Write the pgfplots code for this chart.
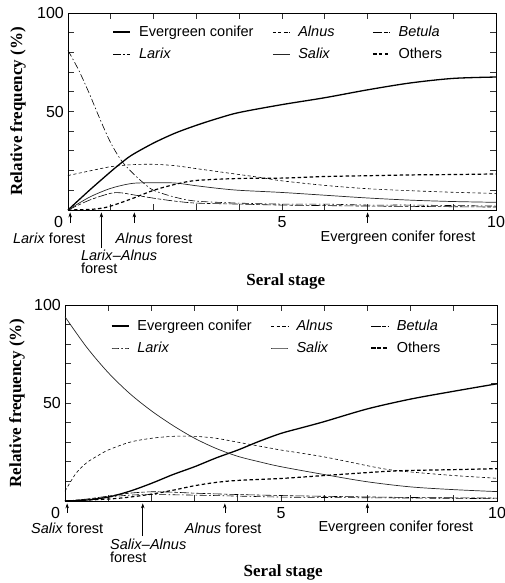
\documentclass[border=0pt]{standalone}
\usepackage{pgfplots}
\pgfplotsset{compat=1.18}
\usepackage{fontspec}
\setmainfont{Liberation Sans}
\newfontfamily\lserif{Liberation Serif}
\usetikzlibrary{arrows.meta}
\newcommand\annfont{\fontsize{14.5}{13}\selectfont}
\tikzset{arr/.style={-{Stealth[length=5pt,width=3.5pt]}, line width=0.6pt}}
\pgfplotsset{
  myaxis/.style={
    scale only axis, clip=false,
    xmin=0, xmax=10, ymin=0, ymax=100,
    xtick={0,1,2,3,4,5,6,7,8,9,10}, ytick={0,10,20,30,40,50,60,70,80,90,100},
    xticklabels={{\makebox[0pt][r]{0\hspace{5pt}}},,,,,5,,,,,10},
    yticklabels={,,,,,50,,,,,100},
    xtick pos=both, ytick pos=both,
    xtick align=inside, ytick align=inside,
    major tick length=6pt,
    xtick style={draw=black!80, line width=1pt},
    ytick style={draw=black!80, line width=1pt},
    axis line style={line width=0.7pt},
    ticklabel style={font=\fontsize{16}{18}\selectfont},
    xticklabel style={inner sep=1pt, yshift=-5pt},
    yticklabel style={inner sep=2pt, xshift=-2pt},
    /pgf/number format/assume math mode=true,
    label style={font=\lserif\bfseries\fontsize{17}{19}\selectfont},
    legend columns=3,
    legend cell align=left,
    legend style={draw=none, fill=none, font=\fontsize{14.5}{16}\selectfont,
      anchor=north west, row sep=6pt,
      /tikz/every odd column/.append style={column sep=6pt},
      /tikz/every even column/.append style={column sep=17pt}},
  },
  ever/.style={black, line width=1.3pt, smooth},
  alnus/.style={black, line width=0.6pt, dash pattern=on 3pt off 2.5pt, smooth},
  betula/.style={black, line width=0.6pt, dash pattern=on 9pt off 2pt on 3.5pt off 2pt, smooth},
  larix/.style={black, line width=0.6pt, dash pattern=on 7pt off 2.5pt on 1.5pt off 2.5pt, smooth},
  salix/.style={black!85, line width=0.7pt, smooth},
  others/.style={black, line width=1.2pt, dash pattern=on 3.5pt off 2.5pt, smooth},
}
\begin{document}
\begin{tikzpicture}
% ---------------- top panel ----------------
\begin{axis}[myaxis, at={(68pt,-210pt)}, anchor=south west,
  width=428pt, height=197pt,
  xlabel={Seral stage}, ylabel={Relative frequency (\%)},
  xlabel style={at={(axis description cs:0.509,-0.365)}, anchor=center},
  ylabel style={at={(axis description cs:-0.117,0.5)}, anchor=center},
  legend style={at={(axis description cs:0.097,0.955)}},
]
\addplot[ever] coordinates {(0,0)(0.5,10)(1,19.5)(1.25,24)(1.5,28)(2,34)(2.5,39)(3,43)(3.5,46.5)(4,49.5)(5,53.5)(6,57)(7,61)(8,64.5)(9,66.8)(10,67.5)};
\addlegendentry{Evergreen conifer}
\addplot[alnus] coordinates {(0,17.5)(0.5,19.8)(1,22)(1.5,23)(2,23.2)(2.5,22.5)(3,21)(3.5,19.5)(4,18)(4.5,16.5)(5,14.8)(6,12.5)(7,10.8)(8,9.8)(9,9)(10,8.4)};
\addlegendentry{\makebox[55pt][l]{\textit{Alnus}}}
\addplot[betula] coordinates {(0,0)(0.5,5)(1,8.5)(1.25,8.7)(1.5,7.8)(2,6)(2.5,4.5)(3,3.5)(4,3)(5,2.5)(7,2)(10,1.5)};
\addlegendentry{\textit{Betula}}
\addplot[larix] coordinates {(0,81)(0.25,71)(0.5,59)(0.75,46)(1,34)(1.25,25)(1.5,19)(1.75,14)(2,10)(2.5,6.5)(3,4.5)(4,3.5)(5,3)(6,3)(7,2.5)(8,2.5)(10,2)};
\addlegendentry{\textit{Larix}}
\addplot[salix] coordinates {(0,0)(0.5,6.5)(1,11)(1.5,13.5)(2,13.8)(2.5,13.7)(3,12.3)(3.5,11)(4,10)(5,8.9)(6,7.5)(7,6.1)(8,5)(9,4.3)(10,3.9)};
\addlegendentry{\makebox[55pt][l]{\textit{Salix}}}
\addplot[others] coordinates {(0,0)(0.5,0.3)(0.75,0.8)(1,2)(1.5,5.8)(2,10)(2.5,13)(3,15)(4,16)(5,16.2)(6,17)(7,17.4)(8,17.8)(9,18)(10,18.3)};
\addlegendentry{Others}
% stage annotations
\draw[arr] (axis cs:0.05,-6.6) -- (axis cs:0.05,-1.2);
\draw[arr] (axis cs:0.78,-19.3) -- (axis cs:0.78,-1.2);
\draw[arr] (axis cs:1.55,-6.6) -- (axis cs:1.55,-1.2);
\draw[arr] (axis cs:7.0,-6.6) -- (axis cs:7.0,-1.2);
\node[font=\annfont, inner sep=0pt] at (axis cs:-0.44,-14.2) {\textit{Larix} forest};
\node[font=\annfont, inner sep=0pt] at (axis cs:2.01,-14.2) {\textit{Alnus} forest};
\node[font=\annfont, inner sep=0pt] at (axis cs:7.71,-14.2) {Evergreen conifer forest};
\node[font=\annfont, inner sep=0pt, anchor=west, align=left] at (axis cs:0.30,-26.1) {\textit{Larix}--\textit{Alnus}\\forest};
\end{axis}
% ---------------- bottom panel ----------------
\begin{axis}[myaxis, at={(65pt,-501pt)}, anchor=south west,
  width=432pt, height=196pt,
  xlabel={Seral stage}, ylabel={Relative frequency (\%)},
  xlabel style={at={(axis description cs:0.505,-0.367)}, anchor=center},
  ylabel style={at={(axis description cs:-0.111,0.5)}, anchor=center},
  legend style={at={(axis description cs:0.099,0.945)}},
]
\addplot[ever] coordinates {(0,0)(0.5,0.5)(1,2)(1.5,5)(2,9)(2.5,13.5)(3,17.5)(3.5,22)(4,26)(4.5,30.5)(5,34.5)(5.5,37.5)(6,40.5)(7,47)(8,52)(9,56)(10,59.8)};
\addlegendentry{Evergreen conifer}
\addplot[alnus] coordinates {(0,5)(0.25,14)(0.5,19.5)(0.75,23)(1,26)(1.5,30)(2,32)(2.5,33)(3,33)(3.5,32)(4,30)(4.75,27)(5,26)(6,22.5)(7,18)(7.5,16)(8,14.8)(9,13)(10,11.6)};
\addlegendentry{\makebox[55pt][l]{\textit{Alnus}}}
\addplot[betula] coordinates {(0,0)(0.5,1)(1,2.5)(1.5,4)(2,4.7)(2.5,4.5)(3,4)(4,3.3)(5,2.8)(6,2.4)(8,1.8)(10,1.5)};
\addlegendentry{\textit{Betula}}
\addplot[larix] coordinates {(0,0)(0.5,0.8)(1,2)(1.5,3)(2,3.3)(3,3)(4,2.5)(5,2)(6,1.8)(8,1.5)(10,1.2)};
\addlegendentry{\textit{Larix}}
\addplot[salix] coordinates {(0,94)(0.5,78.5)(1,65.5)(1.5,54.8)(2,46)(2.5,38.5)(3,32)(3.5,26.8)(4,22.8)(4.5,20)(5,17.5)(6,13.5)(7,9.8)(8,7.2)(9,5.8)(10,4.8)};
\addlegendentry{\makebox[55pt][l]{\textit{Salix}}}
\addplot[others] coordinates {(0,0)(1,1)(1.5,2)(2,3.5)(2.5,5.5)(3,7.8)(3.5,9.5)(4,10.5)(5,11.5)(6,13)(7,14.5)(7.5,15.2)(8,15.6)(9,16)(10,16.5)};
\addlegendentry{Others}
\draw[arr] (axis cs:0.05,-6.1) -- (axis cs:0.05,-1.2);
\draw[arr] (axis cs:1.8,-17.9) -- (axis cs:1.8,-1.2);
\draw[arr] (axis cs:3.7,-6.1) -- (axis cs:3.7,-1.2);
\draw[arr] (axis cs:7.0,-6.1) -- (axis cs:7.0,-1.2);
\node[font=\annfont, inner sep=0pt] at (axis cs:0.05,-13.8) {\textit{Salix} forest};
\node[font=\annfont, inner sep=0pt] at (axis cs:3.66,-13.8) {\textit{Alnus} forest};
\node[font=\annfont, inner sep=0pt] at (axis cs:7.66,-13.8) {Evergreen conifer forest};
\node[font=\annfont, inner sep=0pt, anchor=west, align=left] at (axis cs:1.04,-25.2) {\textit{Salix}--\textit{Alnus}\\forest};
\end{axis}
\pgfresetboundingbox
\path[use as bounding box] (0pt,0pt) rectangle (504pt,-583pt);
\end{tikzpicture}
\end{document}
